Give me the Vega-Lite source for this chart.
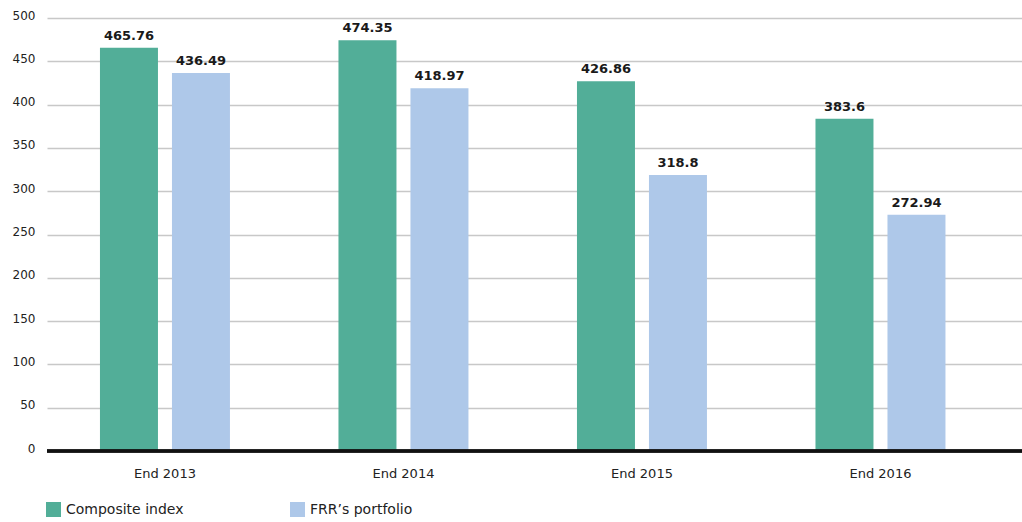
{
  "$schema": "https://vega.github.io/schema/vega-lite/v6.json",
  "width": 975,
  "height": 433,
  "autosize": "none",
  "padding": {"left": 47, "top": 18, "right": 0, "bottom": 71},
  "background": "white",
  "config": {
    "view": {"stroke": null},
    "font": "DejaVu Sans",
    "axis": {"labelFont": "DejaVu Sans", "labelColor": "#222222"}
  },
  "data": {
    "values": [
      {"period": "End 2013", "series": "Composite index", "value": 465.76},
      {"period": "End 2013", "series": "FRR’s portfolio", "value": 436.49},
      {"period": "End 2014", "series": "Composite index", "value": 474.35},
      {"period": "End 2014", "series": "FRR’s portfolio", "value": 418.97},
      {"period": "End 2015", "series": "Composite index", "value": 426.86},
      {"period": "End 2015", "series": "FRR’s portfolio", "value": 318.8},
      {"period": "End 2016", "series": "Composite index", "value": 383.6},
      {"period": "End 2016", "series": "FRR’s portfolio", "value": 272.94}
    ]
  },
  "encoding": {
    "x": {
      "field": "period", "type": "nominal",
      "scale": {"paddingInner": 0.455, "paddingOuter": 0.2715, "align": 0.409},
      "axis": {"title": null, "labelAngle": 0, "ticks": false, "domain": false, "labelPadding": 16, "labelFontSize": 13}
    },
    "xOffset": {
      "field": "series", "type": "nominal",
      "scale": {"paddingInner": 0.1944, "paddingOuter": 0}
    },
    "y": {
      "field": "value", "type": "quantitative",
      "scale": {"domain": [0, 500], "nice": false},
      "axis": {"title": null, "values": [0,50,100,150,200,250,300,350,400,450,500], "ticks": false, "domain": false, "gridColor": "#c8c8c8", "gridWidth": 1.5, "labelPadding": 12, "labelFontSize": 12, "labelOffset": -3}
    },
    "color": {
      "field": "series", "type": "nominal",
      "scale": {"domain": ["Composite index", "FRR’s portfolio"], "range": ["#52ae98", "#aec8e9"]},
      "legend": {
        "title": null, "orient": "none", "legendX": -1, "legendY": 484, "direction": "horizontal",
        "symbolType": "square", "symbolSize": 225, "symbolStrokeWidth": 0, "symbolOpacity": 1,
        "labelFontSize": 14, "labelColor": "#222222", "labelFont": "DejaVu Sans", "labelOffset": 5,
        "columnPadding": 106
      }
    }
  },
  "layer": [
    {"mark": {"type": "bar"}},
    {
      "mark": {"type": "text", "baseline": "alphabetic", "dy": -8, "fontSize": 13, "fontWeight": "bold", "color": "#1a1a1a"},
      "encoding": {"text": {"field": "value", "type": "quantitative"}, "color": {"value": "#1a1a1a"}}
    },
    {
      "mark": {"type": "rule", "color": "#111111", "strokeWidth": 2.5},
      "encoding": {"y": {"datum": 0}, "x": null, "xOffset": null, "color": {"value": "#111111"}}
    }
  ]
}
